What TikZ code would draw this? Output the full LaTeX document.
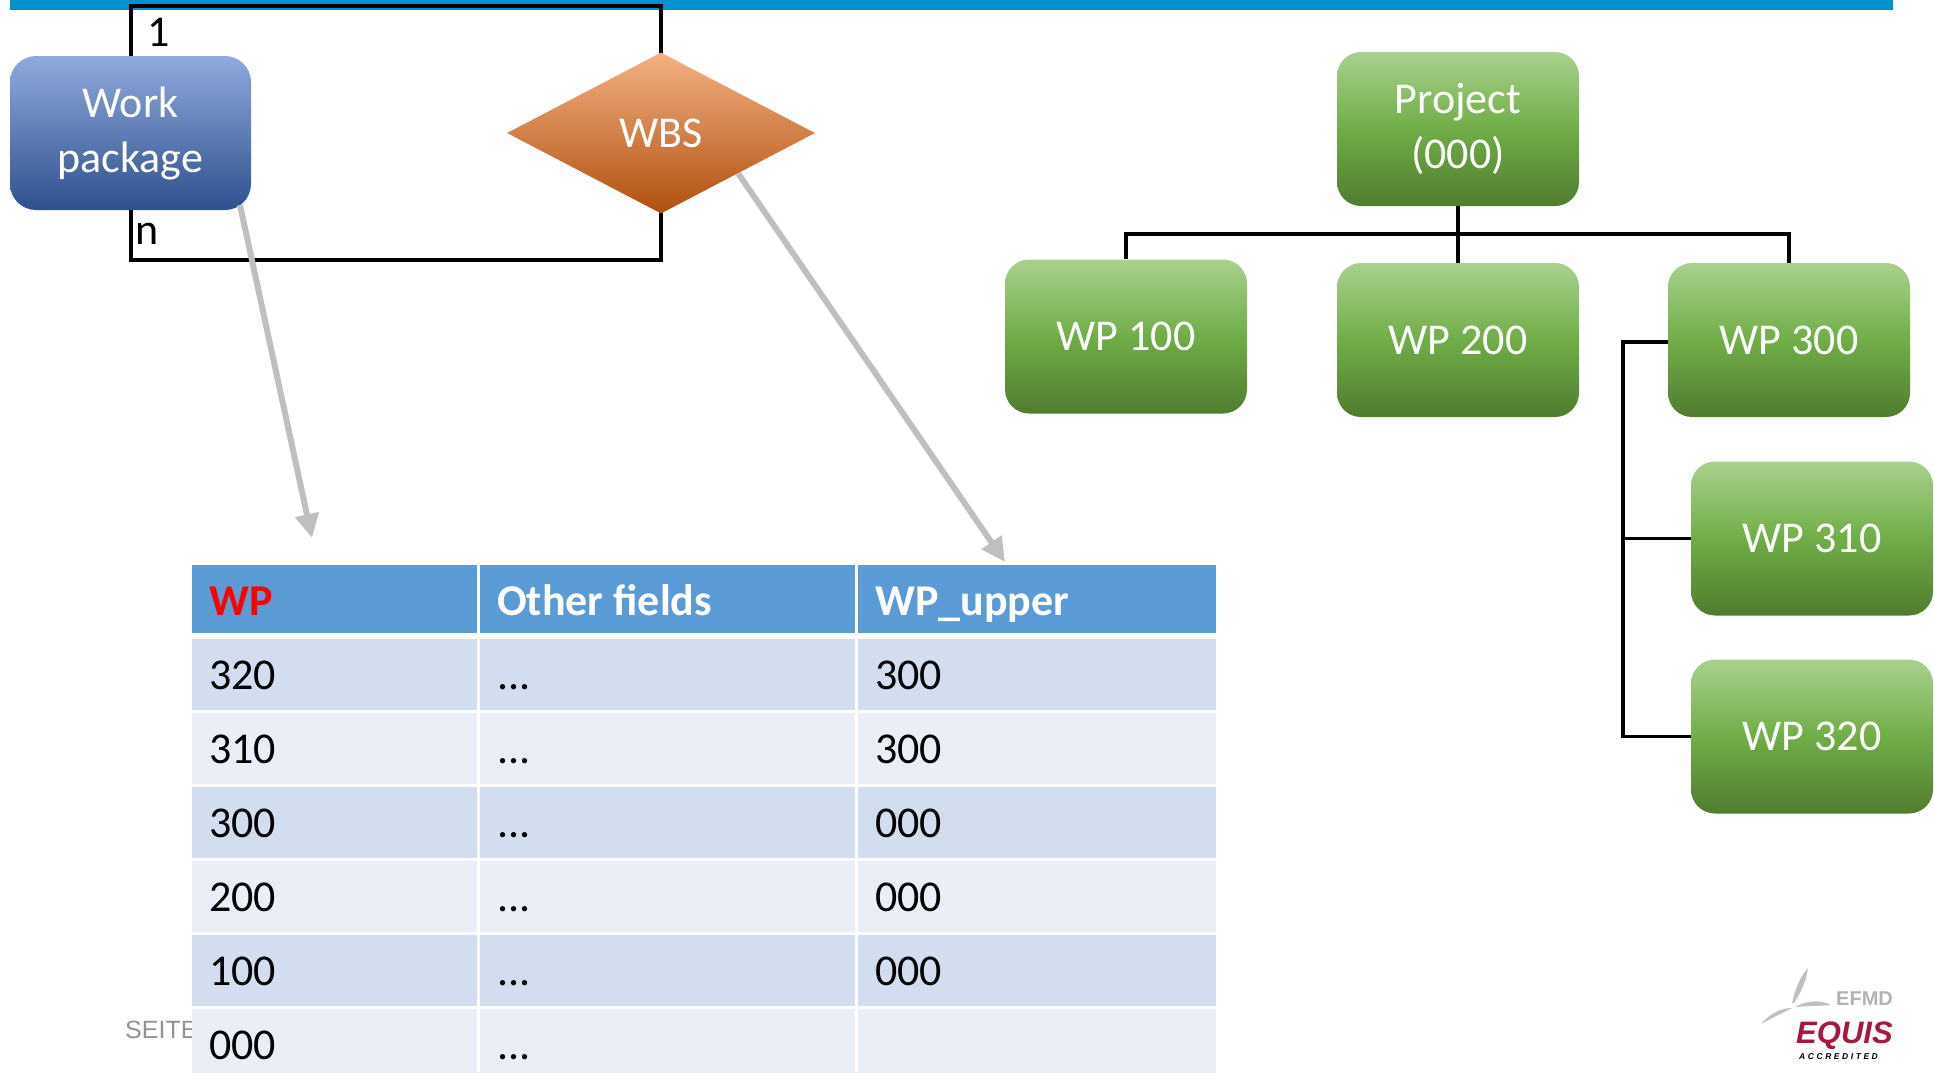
\documentclass[tikz,border=0pt]{standalone}
\usepackage{fontspec}
\usepackage{amsmath}
\setmainfont{Carlito}
\newfontfamily\logofont{Liberation Sans}
\usetikzlibrary{shapes.geometric,arrows.meta}
\definecolor{barblue}{HTML}{0091D0}
\definecolor{headblue}{HTML}{5B9BD5}
\definecolor{rowdark}{HTML}{D2DEEF}
\definecolor{rowlight}{HTML}{EAEFF7}
\definecolor{greentop}{HTML}{A9D18E}
\definecolor{greenmid}{HTML}{70AD47}
\definecolor{greenlow}{HTML}{507C2F}
\definecolor{equisred}{HTML}{A6193C}
\tikzset{
  wpbox/.style={rectangle, rounded corners=24pt, minimum width=242pt, minimum height=154pt, inner sep=0pt,
    top color=greentop, bottom color=greenlow, middle color=greenmid, text=white, align=center,
    font=\fontsize{44}{55}\selectfont},
  cell/.style={anchor=base west, inner sep=0pt, font=\fontsize{44}{55}\selectfont},
  headcell/.style={cell, font=\fontsize{44}{55}\selectfont\bfseries, text=white},
  frameline/.style={black, line width=3.5pt},
  grayarrow/.style={-{Triangle[length=24pt,width=23pt]}, gray!50, line width=6pt},
  wing/.style={fill=gray!50, draw=none}
}
\begin{document}
\begin{tikzpicture}[x=1pt,y=-1pt]
\clip (0,0) rectangle (1934,1072);
\fill[barblue] (10,0) rectangle (1893,10);
% entity part
\draw[frameline] (131,60) -- (131,6) -- (661,6) -- (661,60);
\draw[frameline] (131,205) -- (131,260) -- (661,260) -- (661,205);
\node[rectangle, rounded corners=26pt, minimum width=241pt, minimum height=154pt, inner sep=0pt,
  top color=blue!30!cyan!20!gray!60, bottom color=blue!50!black!70!gray, middle color=blue!50!cyan!50!gray,
  top color={rgb,255:red,143;green,170;blue,220}, middle color={rgb,255:red,68;green,114;blue,196}, bottom color={rgb,255:red,47;green,80;blue,143},
  text=white, align=center, font=\fontsize{44}{55}\selectfont] (workpkg) at (130.5,133) {Work\\package};
\node[diamond, minimum width=308pt, minimum height=161pt, inner sep=0pt,
  top color={rgb,255:red,244;green,177;blue,131}, middle color={rgb,255:red,237;green,125;blue,49}, bottom color={rgb,255:red,175;green,80;blue,15},
  text=white, font=\fontsize{44}{55}\selectfont] (wbs) at (661,133) {WBS};
\node[cell] (one) at (147,46) {1};
\node[cell] (many) at (135,244) {n};
% hierarchy
\node[wpbox] (project) at (1458,129) {Project\\(000)};
\node[wpbox] (wp100) at (1126,336.5) {WP 100};
\node[wpbox] (wp200) at (1458,340) {WP 200};
\node[wpbox] (wp300) at (1789,340) {WP 300};
\node[wpbox] (wp310) at (1812,538.5) {WP 310};
\node[wpbox] (wp320) at (1812,736.5) {WP 320};
\coordinate (bus) at (1458,234);
\coordinate (spine) at (1623,342);
\draw[frameline] (project.south) -- (wp200.north);
\draw[frameline] (bus) -| (wp100.north);
\draw[frameline] (bus) -| (wp300.north);
\draw[frameline] (wp300.west |- spine) -- (spine) |- (wp320.west);
\draw[frameline] (spine) |- (wp310.west);
% footer text sits behind the table
\node[anchor=base west, inner sep=0pt, text=gray!85, font=\logofont\fontsize{25}{30}\selectfont] (seite) at (125,1038) {SEITE};
% table
\fill[headblue] (192,565) rectangle (1216,633);
\foreach \rowy/\rowcol/\wpnum/\upper in {689/rowdark/320/300, 763/rowlight/310/300, 837/rowdark/300/000, 911/rowlight/200/000, 985/rowdark/100/000, 1059/rowlight/000/{}} {
  \fill[\rowcol] (192,\rowy-50) rectangle (1216,\rowy+21);
  \node[cell] (wp\wpnum) at (209,\rowy) {\wpnum};
  \node[cell] (dots\wpnum) at (497,\rowy) {...};
  \node[cell] (up\wpnum) at (875,\rowy) {\upper};
}
\fill[white] (477,565) rectangle (480,1072);
\fill[white] (855,565) rectangle (858,1072);
\node[headcell, text=red] (headwp) at (209,615) {WP};
\node[headcell] (headother) at (497,615) {Other fields};
\node[headcell] (headupper) at (875,615) {WP\_upper};
% links to table
\coordinate (wpfoot) at (240,205);
\coordinate (wptip) at (312,538);
\coordinate (wbstip) at (1005,562);
\draw[grayarrow] (wpfoot) -- (wptip);
\draw[grayarrow] (wbs.south east) -- (wbstip);
% logo
\fill[wing] (1792,1003) .. controls (1795,988) and (1802,974) .. (1808,968) .. controls (1806,982) and (1800,994) .. (1794,1003) -- cycle;
\fill[wing] (1795,1007) .. controls (1805,1001) and (1820,999) .. (1831,1005) .. controls (1820,1006) and (1806,1006) .. (1795,1007) -- cycle;
\fill[wing] (1761,1024) .. controls (1770,1013) and (1782,1008) .. (1792,1008) .. controls (1782,1013) and (1770,1019) .. (1761,1024) -- cycle;
\node[anchor=base west, inner sep=0pt, text=gray!60, font=\logofont\bfseries\fontsize{20}{24}\selectfont] (efmd) at (1836,1005) {EFMD};
\node[anchor=base west, inner sep=0pt, text=equisred, font=\logofont\bfseries\itshape\fontsize{31}{36}\selectfont] (equis) at (1796,1043) {EQUIS};
\node[anchor=base west, inner sep=0pt, font=\logofont\bfseries\itshape\fontsize{8.5}{10}\selectfont\addfontfeature{LetterSpace=30}] (accredited) at (1799,1059) {ACCREDITED};
\end{tikzpicture}
\end{document}
